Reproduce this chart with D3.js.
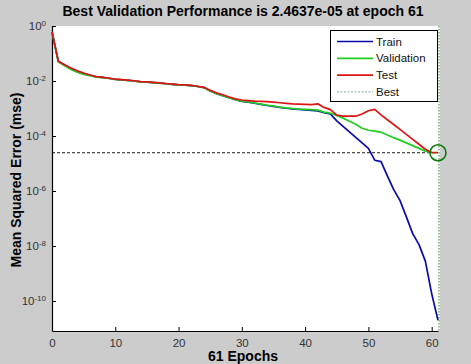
<!DOCTYPE html>
<html>
<head>
<meta charset="utf-8">
<script src="https://cdn.jsdelivr.net/npm/d3@7/dist/d3.min.js"></script>
<style>
  html, body { margin: 0; padding: 0; background: #cccccc; }
  svg { display: block; }
  text { font-family: "Liberation Sans", Arial, sans-serif; }
</style>
</head>
<body>
<svg id="chart" width="471" height="364"></svg>
<script>
// ---- data (log10 of mean squared error per epoch) ----
const epochs = d3.range(0, 62);
const trainLogMse = [
  -0.22, -1.29, -1.42, -1.55, -1.65, -1.73, -1.79, -1.85, -1.87, -1.90,
  -1.94, -1.96, -1.98, -2.00, -2.03, -2.04, -2.06, -2.08, -2.10, -2.12,
  -2.14, -2.15, -2.17, -2.20, -2.24, -2.36, -2.46, -2.53, -2.61, -2.68,
  -2.74, -2.77, -2.81, -2.85, -2.89, -2.92, -2.96, -2.99, -3.01, -3.03,
  -3.05, -3.07, -3.09, -3.15, -3.20, -3.45, -3.65, -3.85, -4.05, -4.25,
  -4.45, -4.88, -4.93, -5.45, -5.95, -6.35, -6.94, -7.55, -7.95, -8.55,
  -9.73, -10.70
];
const validationLogMse = [
  -0.22, -1.30, -1.45, -1.58, -1.68, -1.76, -1.81, -1.86, -1.88, -1.91,
  -1.94, -1.96, -1.98, -2.00, -2.03, -2.04, -2.06, -2.08, -2.10, -2.12,
  -2.14, -2.15, -2.17, -2.20, -2.24, -2.36, -2.46, -2.53, -2.61, -2.68,
  -2.73, -2.76, -2.80, -2.84, -2.88, -2.91, -2.95, -2.98, -3.00, -3.02,
  -3.03, -3.04, -3.06, -3.13, -3.17, -3.25, -3.35, -3.46, -3.57, -3.72,
  -3.79, -3.82, -3.86, -3.96, -4.06, -4.15, -4.25, -4.35, -4.45, -4.55,
  -4.60, -4.6085
];
const testLogMse = [
  -0.22, -1.28, -1.41, -1.53, -1.63, -1.71, -1.78, -1.84, -1.87, -1.90,
  -1.93, -1.95, -1.97, -1.99, -2.02, -2.03, -2.05, -2.07, -2.09, -2.11,
  -2.13, -2.14, -2.16, -2.19, -2.23, -2.34, -2.43, -2.50, -2.58, -2.65,
  -2.69, -2.71, -2.73, -2.74, -2.75, -2.77, -2.79, -2.81, -2.83, -2.84,
  -2.85, -2.86, -2.83, -2.96, -3.04, -3.24, -3.28, -3.28, -3.28, -3.20,
  -3.08, -3.03, -3.23, -3.41, -3.58, -3.76, -3.94, -4.12, -4.30, -4.48,
  -4.60, -4.60
];
const bestEpoch = 61;
const bestPerf = 2.4637e-05;
const xTicks = [0, 10, 20, 30, 40, 50, 60];
const yTickExps = [0, -2, -4, -6, -8, -10];
const seriesNames = ["Train", "Validation", "Test", "Best"];
const titleText = "Best Validation Performance is 2.4637e-05 at epoch 61";
const xLabel = "61 Epochs";
const yLabel = "Mean Squared Error  (mse)";

// ---- layout ----
const svg = d3.select("#chart");
const W = 471, H = 364;
const L = 52, R = 438, T = 26, B = 331;

const x = d3.scaleLinear().domain([0, 61]).range([L, R]);
const y = d3.scaleLog().domain([Math.pow(10, -11.09), 1]).range([B, T]);

svg.append("rect").attr("width", W).attr("height", H).attr("fill", "#cccccc");
svg.append("rect").attr("x", L).attr("y", T).attr("width", R - L + 2).attr("height", B - T).attr("fill", "#ffffff");

// axes
const xAxis = d3.axisBottom(x).tickValues(xTicks).tickSizeInner(-4).tickSizeOuter(0).tickPadding(8);
const gx = svg.append("g").attr("transform", `translate(0,${B})`).call(xAxis);
gx.select(".domain").attr("stroke", "#000").attr("stroke-width", 1.2);
gx.selectAll(".tick line").attr("stroke", "#000");
gx.selectAll(".tick text").attr("font-size", 11.5).attr("fill", "#333").attr("font-family", "Liberation Sans, Arial, sans-serif");

const yAxis = d3.axisLeft(y).tickValues(yTickExps.map(e => Math.pow(10, e))).tickSizeInner(-4).tickSizeOuter(0).tickPadding(6).tickFormat(() => "");
const gy = svg.append("g").attr("transform", `translate(${L},0)`).call(yAxis);
gy.select(".domain").attr("stroke", "#000").attr("stroke-width", 1.2);
gy.selectAll(".tick line").attr("stroke", "#000");
gy.selectAll(".tick").each(function(d, i) {
  const t = d3.select(this).select("text");
  t.attr("font-size", 11.5).attr("fill", "#333").attr("font-family", "Liberation Sans, Arial, sans-serif")
    .attr("x", -6).attr("dy", "0.32em").attr("text-anchor", "end");
  t.text(null);
  t.append("tspan").text("10");
  t.append("tspan").attr("dy", "-0.55em").attr("font-size", 8).text(String(yTickExps[i]));
});

// best lines
svg.append("line").attr("x1", L).attr("x2", R).attr("y1", y(bestPerf)).attr("y2", y(bestPerf))
  .attr("stroke", "#000").attr("stroke-width", 0.9).attr("stroke-dasharray", "3,2");
svg.append("line").attr("x1", x(bestEpoch) + 1).attr("x2", x(bestEpoch) + 1).attr("y1", T).attr("y2", B)
  .attr("stroke", "#4a9a4a").attr("stroke-width", 1.2).attr("stroke-dasharray", "1.5,1.5");

// series
const line = d3.line().x((d, i) => x(epochs[i])).y(d => y(Math.pow(10, d)));
const series = [
  { name: "Train", data: trainLogMse, color: "#0a0aa8" },
  { name: "Validation", data: validationLogMse, color: "#22cc22" },
  { name: "Test", data: testLogMse, color: "#dd1414" }
];
series.forEach(s => {
  svg.append("path").datum(s.data).attr("d", line).attr("fill", "none")
    .attr("stroke", s.color).attr("stroke-width", 1.7).attr("stroke-linejoin", "round");
});

// best circle
svg.append("circle").attr("cx", x(bestEpoch)).attr("cy", y(bestPerf)).attr("r", 8)
  .attr("fill", "none").attr("stroke", "#0a7a0a").attr("stroke-width", 1.6);

// legend
const lg = svg.append("g");
lg.append("rect").attr("x", 330.5).attr("y", 30.5).attr("width", 107).attr("height", 71)
  .attr("fill", "#fff").attr("stroke", "#000").attr("stroke-width", 1);
const legendColors = ["#0a0aa8", "#22cc22", "#dd1414", "#7a9a9a"];
seriesNames.forEach((n, i) => {
  const yy = 41.5 + i * 16.8;
  lg.append("line").attr("x1", 337).attr("x2", 373).attr("y1", yy).attr("y2", yy)
    .attr("stroke", legendColors[i]).attr("stroke-width", i === 3 ? 0.9 : 1.7)
    .attr("stroke-dasharray", i === 3 ? "2,1.5" : null);
  lg.append("text").attr("x", 376).attr("y", yy).attr("dy", "0.35em")
    .attr("font-size", 11.5).attr("fill", "#111").text(n);
});

// title and labels
svg.append("text").attr("x", 243).attr("y", 16).attr("text-anchor", "middle")
  .attr("font-size", 14).attr("font-weight", "bold").attr("fill", "#000").text(titleText);
svg.append("text").attr("x", 243).attr("y", 361).attr("text-anchor", "middle")
  .attr("font-size", 14).attr("font-weight", "bold").attr("fill", "#000").text(xLabel);
svg.append("text").attr("transform", `translate(21,${180}) rotate(-90)`).attr("text-anchor", "middle")
  .attr("font-size", 14).attr("font-weight", "bold").attr("fill", "#000").text(yLabel);
</script>
</body>
</html>
